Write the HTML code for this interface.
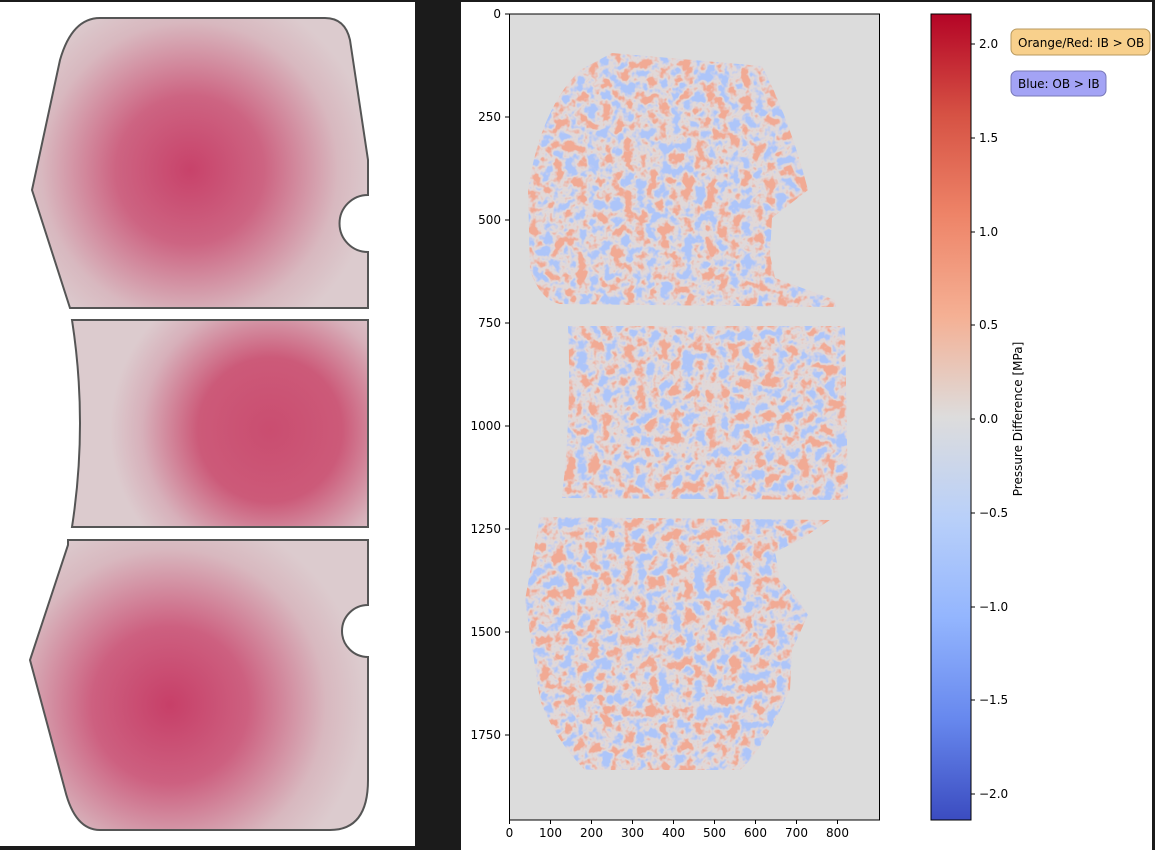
<!DOCTYPE html>
<html><head><meta charset="utf-8"><style>
html,body{margin:0;padding:0;background:#1b1b1b;width:1155px;height:850px;overflow:hidden;font-family:"Liberation Sans","DejaVu Sans",sans-serif}
</style></head><body>
<svg width="1155" height="850" viewBox="0 0 1155 850" xmlns="http://www.w3.org/2000/svg" font-family="DejaVu Sans, Liberation Sans, sans-serif">
<defs>
<radialGradient id="g1" cx="190" cy="170" r="185" gradientUnits="userSpaceOnUse">
<stop offset="0" stop-color="#c8426a"/><stop offset="0.4" stop-color="#cd6482"/><stop offset="0.8" stop-color="#d8b8bf"/><stop offset="1" stop-color="#dccbce"/></radialGradient>
<radialGradient id="g2" cx="270" cy="430" r="160" gradientUnits="userSpaceOnUse">
<stop offset="0" stop-color="#ca4d70"/><stop offset="0.45" stop-color="#cc5a79"/><stop offset="0.8" stop-color="#d7b0ba"/><stop offset="1" stop-color="#dccbce"/></radialGradient>
<radialGradient id="g3" cx="170" cy="705" r="195" gradientUnits="userSpaceOnUse">
<stop offset="0" stop-color="#c73f68"/><stop offset="0.4" stop-color="#cd6080"/><stop offset="0.8" stop-color="#d8b8bf"/><stop offset="1" stop-color="#dccbce"/></radialGradient>
<linearGradient id="cb" x1="0" y1="0" x2="0" y2="1">
<stop offset="0" stop-color="#b40426"/><stop offset="0.125" stop-color="#d65244"/><stop offset="0.25" stop-color="#ee8468"/><stop offset="0.375" stop-color="#f5b094"/><stop offset="0.5" stop-color="#dddcdc"/><stop offset="0.625" stop-color="#b9d0f9"/><stop offset="0.75" stop-color="#93b5fe"/><stop offset="0.875" stop-color="#6788ee"/><stop offset="1" stop-color="#3b4cc0"/></linearGradient>
<filter id="noise" x="0" y="0" width="100%" height="100%">
<feTurbulence type="fractalNoise" baseFrequency="0.085" numOctaves="3" seed="4" result="t"/>
<feColorMatrix in="t" type="matrix" values="0 0 0 0 0.88  0 0 0 0 0.4  0 0 0 0 0.3  7.5 0 0 0 -3.95" result="red"/>
<feColorMatrix in="t" type="matrix" values="0 0 0 0 0.42  0 0 0 0 0.56  0 0 0 0 0.95  -7.5 0 0 0 3.55" result="blue"/>
<feFlood flood-color="#e0d8d8" result="base"/>
<feMerge result="m"><feMergeNode in="base"/><feMergeNode in="red"/><feMergeNode in="blue"/></feMerge>
<feComposite in="m" in2="SourceGraphic" operator="in"/>
</filter>
</defs>
<rect x="0" y="2" width="415" height="844" fill="#fff"/>
<g stroke="#555" stroke-width="2">
<path d="M100,18 L325,18 Q345,18 350,40 L368,160 L368,195 A28,28 0 0,0 368,252 L368,308 L70,308 L32,190 L60,60 Q72,18 100,18 Z" fill="url(#g1)"/>
<path d="M72,320 L368,320 L368,527 L72,527 Q88,423 72,320 Z" fill="url(#g2)"/>
<path d="M68,540 L368,540 L368,605 A26,26 0 0,0 368,657 L368,780 Q368,830 330,830 L100,830 Q75,830 65,790 L30,660 L68,545 Z" fill="url(#g3)"/>
</g>
<rect x="461" y="2" width="691" height="848" fill="#fff"/>
<rect x="509.5" y="14" width="370" height="806" fill="#dcdcdc" stroke="#000" stroke-width="1"/>
<g filter="url(#noise)" fill="#000">
<path d="M612,53 L762,66 Q790,120 808,190 L772,218 L770,255 L775,278 L835,300 L836,307 L560,304 Q540,300 530,270 L528,190 Q540,110 580,70 Z"/>
<path d="M568,326 L845,326 L848,500 L562,498 Q572,410 568,326 Z"/>
<path d="M540,517 L830,520 L800,540 L775,552 L780,580 Q800,600 808,615 L792,650 L790,690 Q760,755 740,770 L585,770 Q555,740 540,700 L525,600 Z"/>
</g>
<g font-size="12" fill="#000">
<g stroke="#000"><line x1="505" y1="14" x2="509" y2="14"/><line x1="505" y1="117" x2="509" y2="117"/><line x1="505" y1="220" x2="509" y2="220"/><line x1="505" y1="323" x2="509" y2="323"/><line x1="505" y1="426" x2="509" y2="426"/><line x1="505" y1="529" x2="509" y2="529"/><line x1="505" y1="632" x2="509" y2="632"/><line x1="505" y1="735" x2="509" y2="735"/></g>
<g text-anchor="end"><text x="501" y="18">0</text><text x="501" y="121">250</text><text x="501" y="224">500</text><text x="501" y="327">750</text><text x="501" y="430">1000</text><text x="501" y="533">1250</text><text x="501" y="636">1500</text><text x="501" y="739">1750</text></g>
<g stroke="#000"><line x1="509.5" y1="820" x2="509.5" y2="824"/><line x1="550.5" y1="820" x2="550.5" y2="824"/><line x1="591.5" y1="820" x2="591.5" y2="824"/><line x1="632.5" y1="820" x2="632.5" y2="824"/><line x1="673.5" y1="820" x2="673.5" y2="824"/><line x1="714.5" y1="820" x2="714.5" y2="824"/><line x1="755.5" y1="820" x2="755.5" y2="824"/><line x1="796.5" y1="820" x2="796.5" y2="824"/><line x1="837.5" y1="820" x2="837.5" y2="824"/></g>
<g text-anchor="middle"><text x="509.5" y="837">0</text><text x="550.5" y="837">100</text><text x="591.5" y="837">200</text><text x="632.5" y="837">300</text><text x="673.5" y="837">400</text><text x="714.5" y="837">500</text><text x="755.5" y="837">600</text><text x="796.5" y="837">700</text><text x="837.5" y="837">800</text></g>
</g>
<rect x="931" y="14" width="40" height="806" fill="url(#cb)" stroke="#000" stroke-width="1"/>
<g font-size="12" fill="#000">
<g stroke="#000"><line x1="971" y1="44" x2="975" y2="44"/><line x1="971" y1="138" x2="975" y2="138"/><line x1="971" y1="232" x2="975" y2="232"/><line x1="971" y1="325" x2="975" y2="325"/><line x1="971" y1="419" x2="975" y2="419"/><line x1="971" y1="513" x2="975" y2="513"/><line x1="971" y1="607" x2="975" y2="607"/><line x1="971" y1="700" x2="975" y2="700"/><line x1="971" y1="794" x2="975" y2="794"/></g>
<text x="979" y="48">2.0</text><text x="979" y="142">1.5</text><text x="979" y="236">1.0</text><text x="979" y="329">0.5</text><text x="979" y="423">0.0</text><text x="979" y="517">−0.5</text><text x="979" y="611">−1.0</text><text x="979" y="704">−1.5</text><text x="979" y="798">−2.0</text>
<text transform="translate(1022,419) rotate(-90)" text-anchor="middle">Pressure Difference [MPa]</text>
</g>
<rect x="1011" y="29" width="139" height="26" rx="6" fill="#f8d08c" stroke="#b89a60"/>
<text x="1018" y="47" font-size="12">Orange/Red: IB &gt; OB</text>
<rect x="1011" y="71" width="95" height="25" rx="6" fill="#a3a3f5" stroke="#7878b8"/>
<text x="1018" y="88" font-size="12">Blue: OB &gt; IB</text>
</svg>
</body></html>
